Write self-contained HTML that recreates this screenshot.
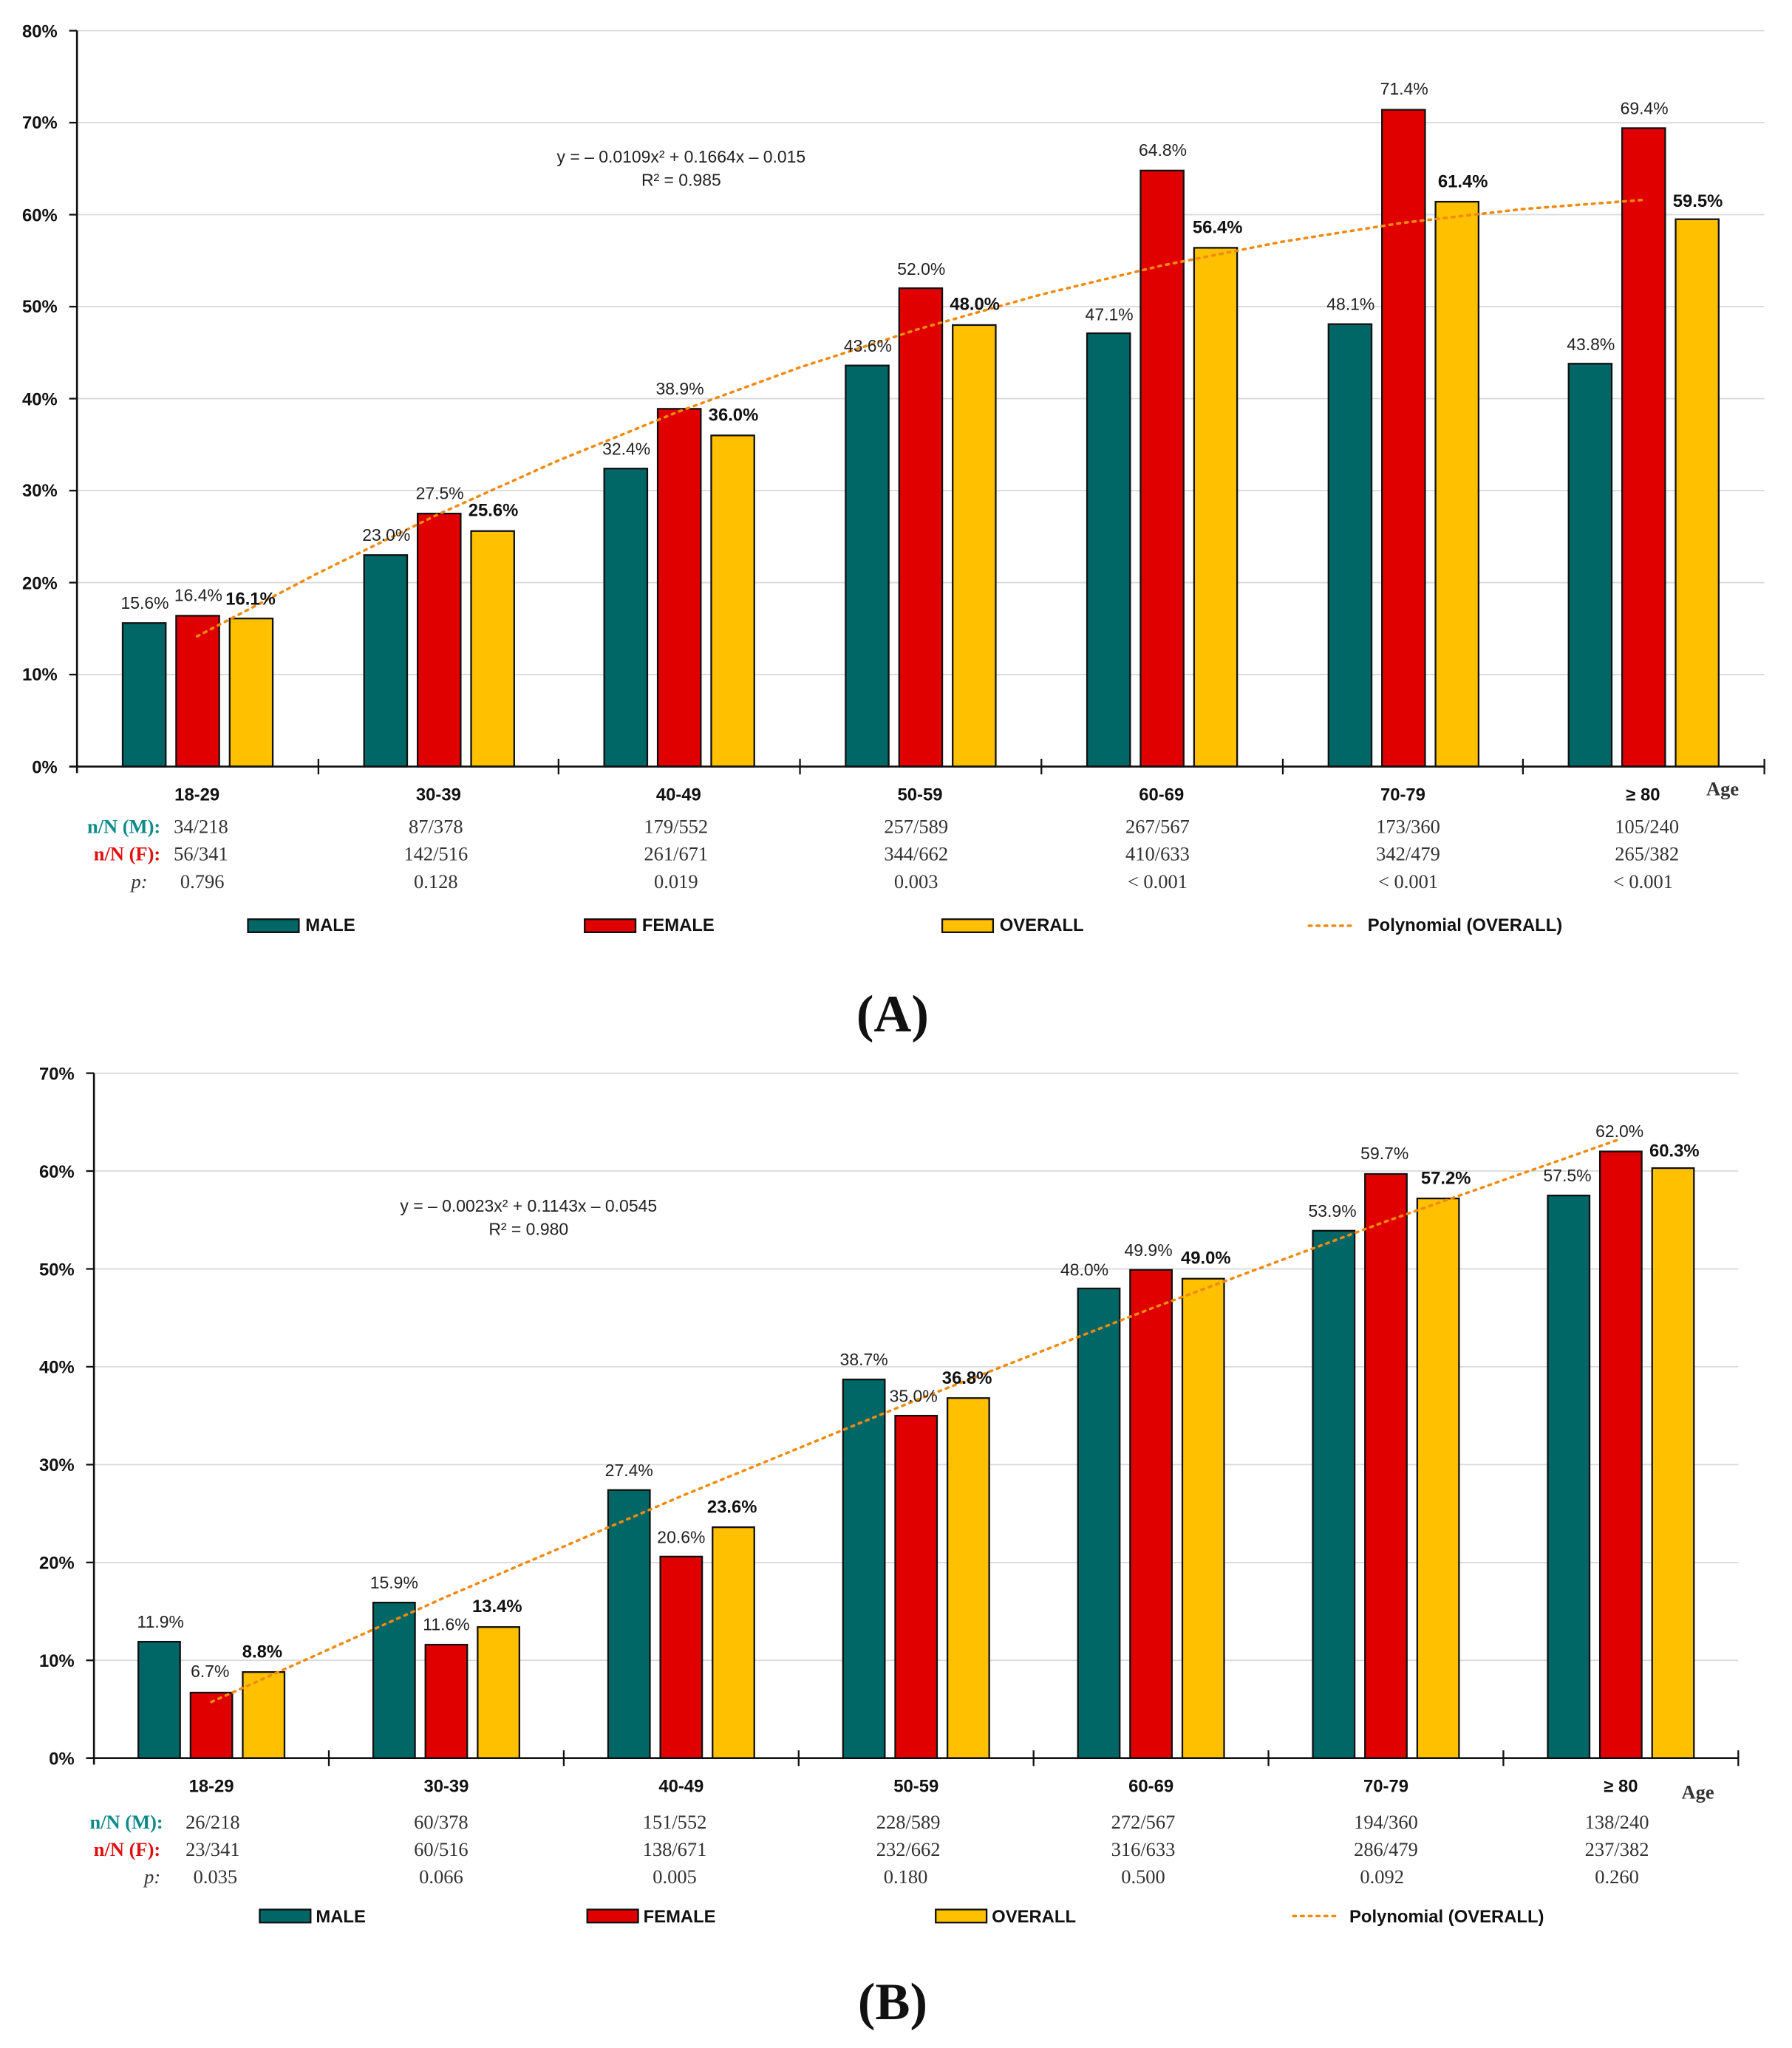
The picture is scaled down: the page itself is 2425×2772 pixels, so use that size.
<!DOCTYPE html>
<html><head><meta charset="utf-8"><style>
html,body{margin:0;padding:0;background:#fff}
svg{display:block}
.t{font-family:"Liberation Sans",sans-serif;font-size:13px;fill:#222}
.b{font-family:"Liberation Sans",sans-serif;font-size:13.5px;font-weight:bold;fill:#111}
.s{font-family:"Liberation Serif",serif;font-size:15px;fill:#333}
.sb{font-family:"Liberation Serif",serif;font-size:15px;font-weight:bold}
.m{fill:#006666;stroke:#111;stroke-width:1.3}
.f{fill:#E00000;stroke:#111;stroke-width:1.3}
.o{fill:#FFC000;stroke:#111;stroke-width:1.3}
.g{stroke:#d9d9d9;stroke-width:1}
</style></head><body>
<svg width="2425" height="2772" viewBox="0 0 1363 1558" xmlns="http://www.w3.org/2000/svg">
<rect width="1363" height="1558" fill="#fff"/>
<g transform="translate(0,0.5) scale(0.9926)">
<!-- ===== Chart A ===== -->
<g>
<line class="g" x1="59" x2="1352" y1="23" y2="23"/><line class="g" x1="59" x2="1352" y1="93.5" y2="93.5"/>
<line class="g" x1="59" x2="1352" y1="164" y2="164"/><line class="g" x1="59" x2="1352" y1="234.5" y2="234.5"/>
<line class="g" x1="59" x2="1352" y1="305" y2="305"/><line class="g" x1="59" x2="1352" y1="375.5" y2="375.5"/>
<line class="g" x1="59" x2="1352" y1="446" y2="446"/><line class="g" x1="59" x2="1352" y1="516.5" y2="516.5"/>
<g class="b" text-anchor="end" font-size="13">
<text x="44" y="28">80%</text><text x="44" y="98">70%</text><text x="44" y="169">60%</text><text x="44" y="239">50%</text>
<text x="44" y="310">40%</text><text x="44" y="380">30%</text><text x="44" y="451">20%</text><text x="44" y="521">10%</text><text x="44" y="592">0%</text>
</g>
<rect class="m" x="94" y="477" width="33" height="110"/><rect class="f" x="135" y="471.4" width="33" height="115.6"/><rect class="o" x="176" y="473.5" width="33" height="113.5"/>
<rect class="m" x="279" y="424.9" width="33" height="162.1"/><rect class="f" x="320" y="393.1" width="33" height="193.9"/><rect class="o" x="361" y="406.5" width="33" height="180.5"/>
<rect class="m" x="463" y="358.6" width="33" height="228.4"/><rect class="f" x="504" y="312.8" width="33" height="274.2"/><rect class="o" x="545" y="333.2" width="33" height="253.8"/>
<rect class="m" x="648" y="279.6" width="33" height="307.4"/><rect class="f" x="689" y="220.4" width="33" height="366.6"/><rect class="o" x="730" y="248.6" width="33" height="338.4"/>
<rect class="m" x="833" y="254.9" width="33" height="332.1"/><rect class="f" x="874" y="130.2" width="33" height="456.8"/><rect class="o" x="915" y="189.4" width="33" height="397.6"/>
<rect class="m" x="1018" y="247.9" width="33" height="339.1"/><rect class="f" x="1059" y="83.6" width="33" height="503.4"/><rect class="o" x="1100" y="154.1" width="33" height="432.9"/>
<rect class="m" x="1202" y="278.2" width="33" height="308.8"/><rect class="f" x="1243" y="97.7" width="33" height="489.3"/><rect class="o" x="1284" y="167.5" width="33" height="419.5"/>
<line x1="59" y1="23" x2="59" y2="592" stroke="#111" stroke-width="1.5"/>
<line x1="53" y1="587" x2="1352" y2="587" stroke="#111" stroke-width="1.5"/>
<g stroke="#111" stroke-width="1.3"><line x1="53" x2="59" y1="23" y2="23"/><line x1="53" x2="59" y1="93.5" y2="93.5"/><line x1="53" x2="59" y1="164" y2="164"/><line x1="53" x2="59" y1="234.5" y2="234.5"/><line x1="53" x2="59" y1="305" y2="305"/><line x1="53" x2="59" y1="375.5" y2="375.5"/><line x1="53" x2="59" y1="446" y2="446"/><line x1="53" x2="59" y1="516.5" y2="516.5"/>
<line x1="244" x2="244" y1="581" y2="593"/><line x1="428" x2="428" y1="581" y2="593"/><line x1="613" x2="613" y1="581" y2="593"/><line x1="798" x2="798" y1="581" y2="593"/><line x1="983" x2="983" y1="581" y2="593"/><line x1="1167" x2="1167" y1="581" y2="593"/><line x1="1352" x2="1352" y1="581" y2="593"/></g>
<polyline points="151,487.2 243.4,438.9 335.7,393.7 428.1,352.3 520.4,314.8 612.8,281.1 705.1,251.3 797.5,225.3 889.8,203.1 982.2,184.8 1074.5,170.3 1166.9,159.7 1259.2,152.7" fill="none" stroke="#F08A10" stroke-width="2" stroke-dasharray="2,4" stroke-linecap="round"/>
<g class="t" text-anchor="middle">
<text x="111" y="466">15.6%</text><text x="152" y="460">16.4%</text>
<text x="296" y="414">23.0%</text><text x="337" y="382">27.5%</text>
<text x="480" y="348">32.4%</text><text x="521" y="302">38.9%</text>
<text x="665" y="269">43.6%</text><text x="706" y="210">52.0%</text>
<text x="850" y="245">47.1%</text><text x="891" y="119">64.8%</text>
<text x="1035" y="237">48.1%</text><text x="1076" y="72">71.4%</text>
<text x="1219" y="268">43.8%</text><text x="1260" y="87">69.4%</text>
</g>
<g class="b" text-anchor="middle">
<text x="192" y="463">16.1%</text><text x="378" y="395">25.6%</text><text x="562" y="322">36.0%</text><text x="747" y="237">48.0%</text>
<text x="933" y="178">56.4%</text><text x="1121" y="143">61.4%</text><text x="1301" y="158">59.5%</text>
</g>
<text class="t" x="522" y="124" text-anchor="middle">y = – 0.0109x² + 0.1664x – 0.015</text>
<text class="t" x="522" y="142" text-anchor="middle">R² = 0.985</text>
<g class="b" text-anchor="middle">
<text x="151" y="613">18-29</text><text x="336" y="613">30-39</text><text x="520" y="613">40-49</text><text x="705" y="613">50-59</text><text x="890" y="613">60-69</text><text x="1075" y="613">70-79</text><text x="1259" y="613">≥ 80</text>
</g>
<text class="sb" x="1320" y="609" text-anchor="middle" fill="#333">Age</text>
<g text-anchor="end"><text class="sb" x="123" y="638" fill="#0E8A8A">n/N (M):</text><text class="sb" x="123" y="659" fill="#E01010">n/N (F):</text><text class="s" x="113" y="680" font-style="italic" fill="#111">p:</text></g>
<g class="s" text-anchor="middle">
<text x="154" y="638">34/218</text><text x="334" y="638">87/378</text><text x="518" y="638">179/552</text><text x="702" y="638">257/589</text><text x="887" y="638">267/567</text><text x="1079" y="638">173/360</text><text x="1262" y="638">105/240</text>
<text x="154" y="659">56/341</text><text x="334" y="659">142/516</text><text x="518" y="659">261/671</text><text x="702" y="659">344/662</text><text x="887" y="659">410/633</text><text x="1079" y="659">342/479</text><text x="1262" y="659">265/382</text>
<text x="155" y="680">0.796</text><text x="334" y="680">0.128</text><text x="518" y="680">0.019</text><text x="702" y="680">0.003</text><text x="887" y="680">&lt; 0.001</text><text x="1079" y="680">&lt; 0.001</text><text x="1259" y="680">&lt; 0.001</text>
</g>
<rect class="m" x="190" y="704" width="39" height="10"/><text class="b" x="234" y="713" font-size="13">MALE</text>
<rect class="f" x="448" y="704" width="39" height="10"/><text class="b" x="492" y="713" font-size="13">FEMALE</text>
<rect class="o" x="722" y="704" width="39" height="10"/><text class="b" x="766" y="713" font-size="13">OVERALL</text>
<line x1="1003" y1="709" x2="1036" y2="709" stroke="#F08A10" stroke-width="2" stroke-dasharray="2,4" stroke-linecap="round"/><text class="b" x="1048" y="713" font-size="13">Polynomial (OVERALL)</text>
<text x="684" y="790" text-anchor="middle" font-family="Liberation Serif,serif" font-size="40" font-weight="bold" fill="#111">(A)</text>
</g>
<!-- ===== Chart B ===== -->
<g>
<line class="g" x1="72" x2="1332" y1="822" y2="822"/><line class="g" x1="72" x2="1332" y1="897" y2="897"/>
<line class="g" x1="72" x2="1332" y1="972" y2="972"/><line class="g" x1="72" x2="1332" y1="1047" y2="1047"/>
<line class="g" x1="72" x2="1332" y1="1122" y2="1122"/><line class="g" x1="72" x2="1332" y1="1197" y2="1197"/>
<line class="g" x1="72" x2="1332" y1="1272" y2="1272"/>
<g class="b" text-anchor="end" font-size="13">
<text x="57" y="827">70%</text><text x="57" y="902">60%</text><text x="57" y="977">50%</text><text x="57" y="1052">40%</text><text x="57" y="1127">30%</text><text x="57" y="1202">20%</text><text x="57" y="1277">10%</text><text x="57" y="1352">0%</text>
</g>
<rect class="m" x="106" y="1257.75" width="32" height="89.25"/><rect class="f" x="146" y="1296.75" width="32" height="50.25"/><rect class="o" x="186" y="1281" width="32" height="66"/>
<rect class="m" x="286" y="1227.75" width="32" height="119.25"/><rect class="f" x="326" y="1260" width="32" height="87"/><rect class="o" x="366" y="1246.5" width="32" height="100.5"/>
<rect class="m" x="466" y="1141.5" width="32" height="205.5"/><rect class="f" x="506" y="1192.5" width="32" height="154.5"/><rect class="o" x="546" y="1170" width="32" height="177"/>
<rect class="m" x="646" y="1056.75" width="32" height="290.25"/><rect class="f" x="686" y="1084.5" width="32" height="262.5"/><rect class="o" x="726" y="1071" width="32" height="276"/>
<rect class="m" x="826" y="987" width="32" height="360"/><rect class="f" x="866" y="972.75" width="32" height="374.25"/><rect class="o" x="906" y="979.5" width="32" height="367.5"/>
<rect class="m" x="1006" y="942.75" width="32" height="404.25"/><rect class="f" x="1046" y="899.25" width="32" height="447.75"/><rect class="o" x="1086" y="918" width="32" height="429"/>
<rect class="m" x="1186" y="915.75" width="32" height="431.25"/><rect class="f" x="1226" y="882" width="32" height="465"/><rect class="o" x="1266" y="894.75" width="32" height="452.25"/>
<line x1="72" y1="822" x2="72" y2="1352" stroke="#111" stroke-width="1.5"/>
<line x1="66" y1="1347" x2="1332" y2="1347" stroke="#111" stroke-width="1.5"/>
<g stroke="#111" stroke-width="1.3"><line x1="66" x2="72" y1="822" y2="822"/><line x1="66" x2="72" y1="897" y2="897"/><line x1="66" x2="72" y1="972" y2="972"/><line x1="66" x2="72" y1="1047" y2="1047"/><line x1="66" x2="72" y1="1122" y2="1122"/><line x1="66" x2="72" y1="1197" y2="1197"/><line x1="66" x2="72" y1="1272" y2="1272"/>
<line x1="252" x2="252" y1="1341" y2="1353"/><line x1="432" x2="432" y1="1341" y2="1353"/><line x1="612" x2="612" y1="1341" y2="1353"/><line x1="792" x2="792" y1="1341" y2="1353"/><line x1="972" x2="972" y1="1341" y2="1353"/><line x1="1152" x2="1152" y1="1341" y2="1353"/><line x1="1332" x2="1332" y1="1341" y2="1353"/></g>
<polyline points="162,1303.9 342,1223.3 522,1146.2 702,1072.6 882,1002.4 1062,935.6 1242,872.3" fill="none" stroke="#F08A10" stroke-width="2" stroke-dasharray="2,4" stroke-linecap="round"/>
<g class="t" text-anchor="middle">
<text x="123" y="1247">11.9%</text><text x="161" y="1285">6.7%</text>
<text x="302" y="1217">15.9%</text><text x="342" y="1249">11.6%</text>
<text x="482" y="1131">27.4%</text><text x="522" y="1182">20.6%</text>
<text x="662" y="1046">38.7%</text><text x="700" y="1074">35.0%</text>
<text x="831" y="977">48.0%</text><text x="880" y="962">49.9%</text>
<text x="1021" y="932">53.9%</text><text x="1061" y="888">59.7%</text>
<text x="1201" y="905">57.5%</text><text x="1241" y="871">62.0%</text>
</g>
<g class="b" text-anchor="middle">
<text x="201" y="1270">8.8%</text><text x="381" y="1235">13.4%</text><text x="561" y="1159">23.6%</text><text x="741" y="1060">36.8%</text>
<text x="924" y="968">49.0%</text><text x="1108" y="907">57.2%</text><text x="1283" y="886">60.3%</text>
</g>
<text class="t" x="405" y="928" text-anchor="middle">y = – 0.0023x² + 0.1143x – 0.0545</text>
<text class="t" x="405" y="946" text-anchor="middle">R² = 0.980</text>
<g class="b" text-anchor="middle">
<text x="162" y="1373">18-29</text><text x="342" y="1373">30-39</text><text x="522" y="1373">40-49</text><text x="702" y="1373">50-59</text><text x="882" y="1373">60-69</text><text x="1062" y="1373">70-79</text><text x="1242" y="1373">≥ 80</text>
</g>
<text class="sb" x="1301" y="1378" text-anchor="middle" fill="#333">Age</text>
<g text-anchor="end"><text class="sb" x="125" y="1401" fill="#0E8A8A">n/N (M):</text><text class="sb" x="123" y="1422" fill="#E01010">n/N (F):</text><text class="s" x="123" y="1443" font-style="italic" fill="#111">p:</text></g>
<g class="s" text-anchor="middle">
<text x="163" y="1401">26/218</text><text x="338" y="1401">60/378</text><text x="517" y="1401">151/552</text><text x="696" y="1401">228/589</text><text x="876" y="1401">272/567</text><text x="1062" y="1401">194/360</text><text x="1239" y="1401">138/240</text>
<text x="163" y="1422">23/341</text><text x="338" y="1422">60/516</text><text x="517" y="1422">138/671</text><text x="696" y="1422">232/662</text><text x="876" y="1422">316/633</text><text x="1062" y="1422">286/479</text><text x="1239" y="1422">237/382</text>
<text x="165" y="1443">0.035</text><text x="338" y="1443">0.066</text><text x="517" y="1443">0.005</text><text x="694" y="1443">0.180</text><text x="876" y="1443">0.500</text><text x="1059" y="1443">0.092</text><text x="1239" y="1443">0.260</text>
</g>
<rect class="m" x="199" y="1463" width="39" height="10"/><text class="b" x="242" y="1473" font-size="13">MALE</text>
<rect class="f" x="450" y="1463" width="39" height="10"/><text class="b" x="493" y="1473" font-size="13">FEMALE</text>
<rect class="o" x="717" y="1463" width="39" height="10"/><text class="b" x="760" y="1473" font-size="13">OVERALL</text>
<line x1="991" y1="1468" x2="1024" y2="1468" stroke="#F08A10" stroke-width="2" stroke-dasharray="2,4" stroke-linecap="round"/><text class="b" x="1034" y="1473" font-size="13">Polynomial (OVERALL)</text>
<text x="684" y="1547" text-anchor="middle" font-family="Liberation Serif,serif" font-size="40" font-weight="bold" fill="#111">(B)</text>
</g>
</g>
</svg>
</body></html>
